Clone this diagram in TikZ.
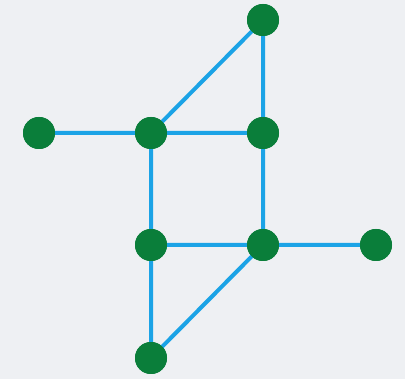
\documentclass[tikz,border=0pt]{standalone}
\definecolor{bgc}{HTML}{EEF0F3}
\definecolor{edgec}{HTML}{1BA3E6}
\definecolor{nodec}{HTML}{0A7E3A}
\begin{document}
\begin{tikzpicture}[x=1pt,y=-1pt,
  vert/.style={circle,fill=nodec,minimum size=32pt,inner sep=0pt},
  link/.style={draw=edgec,line width=4pt}]
\fill[bgc] (0,0) rectangle (405,379);
\useasboundingbox (0,0) rectangle (405,379);
\node[vert] (t) at (263,20) {};
\node[vert] (l) at (39,133) {};
\node[vert] (ml) at (151,133) {};
\node[vert] (mr) at (263,133) {};
\node[vert] (ll) at (151,245) {};
\node[vert] (lr) at (263,245) {};
\node[vert] (r) at (376,245) {};
\node[vert] (b) at (151,358) {};
\path[link] (l.center) -- (ml.center)
  (ml.center) -- (mr.center)
  (ml.center) -- (t.center)
  (t.center) -- (mr.center)
  (ml.center) -- (ll.center)
  (mr.center) -- (lr.center)
  (ll.center) -- (lr.center)
  (lr.center) -- (r.center)
  (lr.center) -- (b.center)
  (ll.center) -- (b.center);
\foreach \n in {t,l,ml,mr,ll,lr,r,b} \fill[nodec] (\n) circle (16pt);
\end{tikzpicture}
\end{document}
